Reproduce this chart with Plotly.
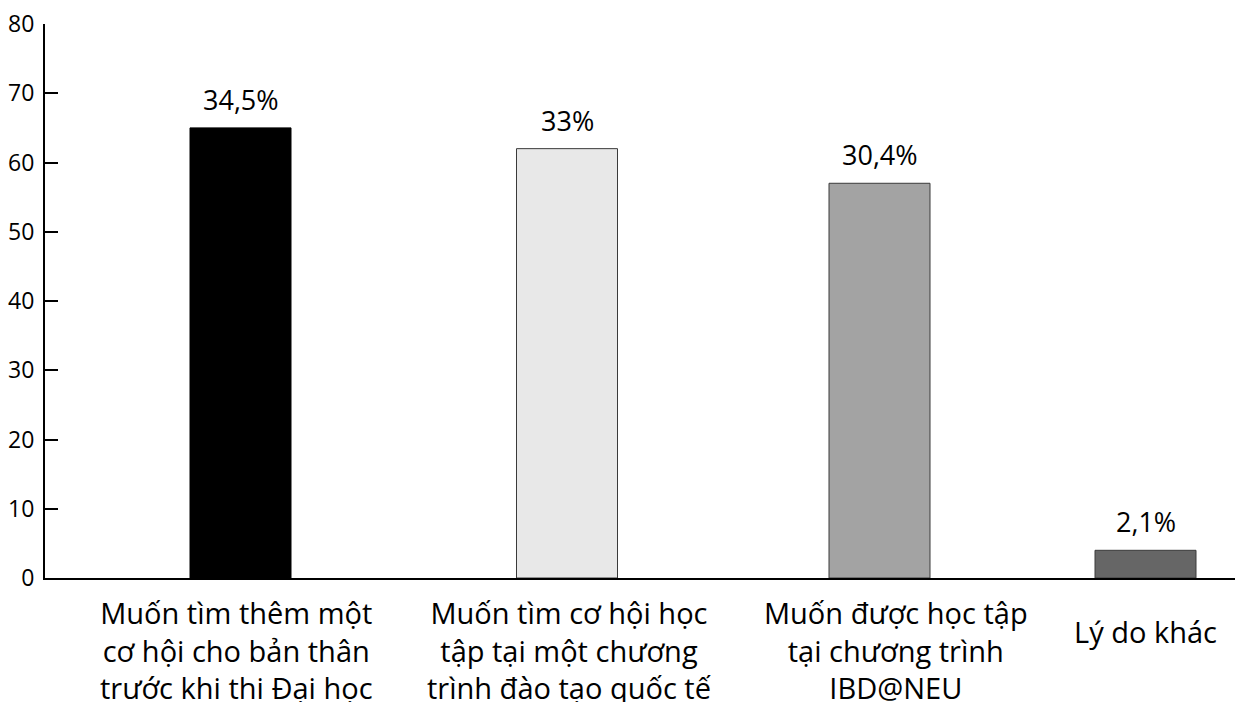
import plotly.graph_objects as go

# ---- data ----
categories = [
    "Muốn tìm thêm một<br>cơ hội cho bản thân<br>trước khi thi Đại học",
    "Muốn tìm cơ hội học<br>tập tại một chương<br>trình đào tạo quốc tế",
    "Muốn được học tập<br>tại chương trình<br>IBD@NEU",
    "Lý do khác",
]
values = [65, 62, 57, 4]
value_labels = ["34,5%", "33%", "30,4%", "2,1%"]
y_ticks = [0, 10, 20, 30, 40, 50, 60, 70, 80]

# ---- layout (slot positions on the x axis, styles) ----
bar_pos = [19.55, 52.2, 83.45, 110.05]
label_pos = [19.15, 52.4, 85.1, 110.0]
label_top = [0, 0, 0, 1]   # label 4 sits lower
bar_colors = ["#000000", "#e8e8e8", "#a3a3a3", "#666666"]
line_colors = ["#000000", "#3a3a3a", "#3a3a3a", "#3a3a3a"]
FONT = "Open Sans"

fig = go.Figure()
fig.add_trace(go.Bar(
    x=bar_pos, y=values, width=10.1,
    marker=dict(color=bar_colors, line=dict(color=line_colors, width=1)),
    hoverinfo="skip",
))

annotations = []
for xp, v, t in zip(bar_pos, values, value_labels):
    annotations.append(dict(
        x=xp, y=v, xref="x", yref="y", text=t, showarrow=False,
        yanchor="bottom", yshift=8,
        font=dict(family=FONT, size=27, color="#000000"),
    ))
for xp, c, lt in zip(label_pos, categories, label_top):
    annotations.append(dict(
        x=xp, y=0, xref="x", yref="paper", text=c, showarrow=False,
        yanchor="top", yshift=-13 - 19 * lt, align="center",
        font=dict(family=FONT, size=29, color="#000000"),
    ))

fig.update_layout(
    width=1235, height=702,
    margin=dict(l=45, r=0, t=24, b=124),
    paper_bgcolor="white", plot_bgcolor="white",
    showlegend=False,
    annotations=annotations,
    xaxis=dict(
        range=[0, 119], showgrid=False, zeroline=False,
        showline=True, linecolor="#000000", linewidth=2,
        showticklabels=False, ticks="", fixedrange=True,
    ),
    yaxis=dict(
        range=[0, 80], tickvals=y_ticks, showgrid=False, zeroline=False,
        showline=True, linecolor="#000000", linewidth=2,
        ticks="inside", ticklen=13, tickwidth=2, tickcolor="#000000",
        tickfont=dict(family=FONT, size=23, color="#000000"),
        ticklabelstandoff=4, fixedrange=True,
    ),
)

fig.write_html("out.html", config={"displayModeBar": False})
